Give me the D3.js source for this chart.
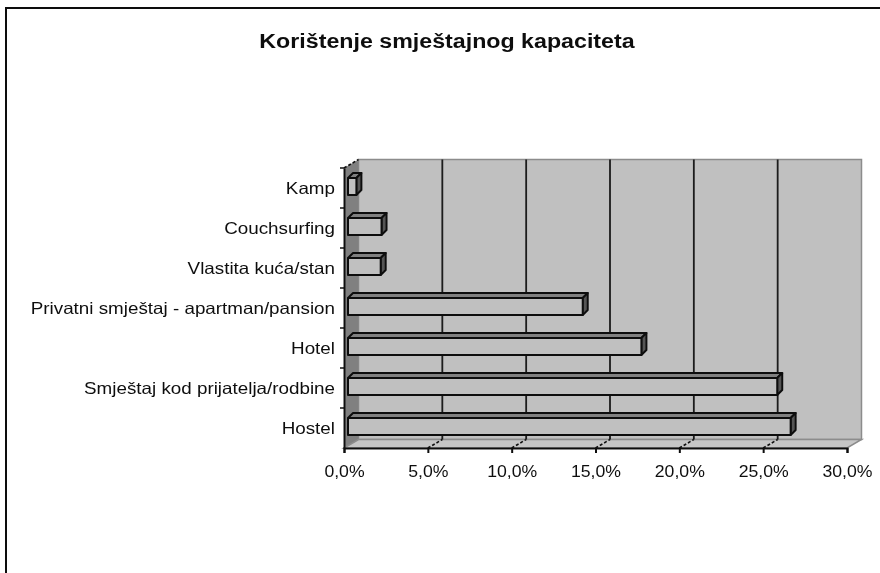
<!DOCTYPE html>
<html>
<head>
<meta charset="utf-8">
<script src="https://cdn.jsdelivr.net/npm/d3@7"></script>
<style>
    body { margin: 0; background: #fff; }
    svg { display: block; }
    text { font-family: "Liberation Sans", Arial, sans-serif; fill: #111; }
</style>
</head>
<body>
<div id="chart"></div>
<script>
'use strict';

const titleText = "Korištenje smještajnog kapaciteta";

// top to bottom, as drawn
const categories = [
    "Kamp",
    "Couchsurfing",
    "Vlastita kuća/stan",
    "Privatni smještaj - apartman/pansion",
    "Hotel",
    "Smještaj kod prijatelja/rodbine",
    "Hostel",
];
const values = [0.5, 2.0, 1.95, 14.0, 17.5, 25.6, 26.4];
const xTicks = [0, 5, 10, 15, 20, 25, 30];

const width = 880;
const height = 573;
const plot = { left: 344, right: 847, top: 168, bottom: 448 };
const depth = { x: 14.5, y: -8.5 };   // shift of the back wall
const bar = { x: 4, y: -1.5, dx: 5, dy: -5 };

const svg = d3.select("#chart")
    .append("svg")
    .attr("width", width)
    .attr("height", height);

// the reference is a soft, upscaled image
svg.append("filter")
    .attr("id", "soft")
    .attr("filterUnits", "userSpaceOnUse")
    .attr("x", 0)
    .attr("y", 0)
    .attr("width", width)
    .attr("height", height)
    .append("feGaussianBlur")
    .attr("stdDeviation", 0.65);

const root = svg.append("g").attr("filter", "url(#soft)");

// the source text is a little wider than the font
function stretch(sel, factor) {
    sel.each(function () {
        const w = this.getComputedTextLength();
        d3.select(this)
            .attr("textLength", w * factor)
            .attr("lengthAdjust", "spacingAndGlyphs");
    });
}

// outer frame, only top and left are visible
root.append("path")
    .attr("d", `M6,${height}V8H${width}`)
    .attr("fill", "none")
    .attr("stroke", "#111")
    .attr("stroke-width", 2);

root.append("text")
    .attr("x", 447)
    .attr("y", 48)
    .attr("text-anchor", "middle")
    .style("font-size", "19.5px")
    .style("font-weight", "bold")
    .text(titleText)
    .call(stretch, 1.19);

const x = d3.scaleLinear().domain([0, 30]).range([plot.left, plot.right]);
const y = d3.scaleBand().domain(categories).range([plot.top, plot.bottom]);

const pts = arr => arr.map(p => p.join(",")).join(" ");

// back wall
root.append("polygon")
    .attr("points", pts([
        [plot.left + depth.x, plot.top + depth.y],
        [plot.right + depth.x, plot.top + depth.y],
        [plot.right + depth.x, plot.bottom + depth.y],
        [plot.left + depth.x, plot.bottom + depth.y],
    ]))
    .attr("fill", "#c0c0c0")
    .attr("stroke", "#8c8c8c")
    .attr("stroke-width", 1.5);

// side wall
root.append("polygon")
    .attr("points", pts([
        [plot.left, plot.top],
        [plot.left + depth.x, plot.top + depth.y],
        [plot.left + depth.x, plot.bottom + depth.y],
        [plot.left, plot.bottom],
    ]))
    .attr("fill", "#808080");

// floor
root.append("polygon")
    .attr("points", pts([
        [plot.left, plot.bottom],
        [plot.left + depth.x, plot.bottom + depth.y],
        [plot.right + depth.x, plot.bottom + depth.y],
        [plot.right, plot.bottom],
    ]))
    .attr("fill", "#c6c6c6")
    .attr("stroke", "#8c8c8c")
    .attr("stroke-width", 1.5);

// grid lines on the wall, dashed where they run over the floor
root.selectAll(".grid")
    .data(xTicks.slice(1, -1))
    .join("line")
    .attr("class", "grid")
    .attr("x1", d => x(d) + depth.x)
    .attr("x2", d => x(d) + depth.x)
    .attr("y1", plot.top + depth.y)
    .attr("y2", plot.bottom + depth.y)
    .attr("stroke", "#1a1a1a")
    .attr("stroke-width", 1.8);

root.selectAll(".grid-floor")
    .data(xTicks.slice(1, -1))
    .join("line")
    .attr("class", "grid-floor")
    .attr("x1", d => x(d))
    .attr("x2", d => x(d) + depth.x)
    .attr("y1", plot.bottom)
    .attr("y2", plot.bottom + depth.y)
    .attr("stroke", "#111")
    .attr("stroke-width", 1.6)
    .attr("stroke-dasharray", "3,2");

// dashed edge above the category axis
root.append("line")
    .attr("x1", plot.left)
    .attr("y1", plot.top)
    .attr("x2", plot.left + depth.x)
    .attr("y2", plot.top + depth.y)
    .attr("stroke", "#111")
    .attr("stroke-width", 1.6)
    .attr("stroke-dasharray", "3,2");

// bars, each a front face, a top face and an end face
const bars = root.selectAll(".bar")
    .data(categories.map((c, i) => ({ c, v: values[i] })))
    .join("g")
    .attr("class", "bar")
    .attr("stroke", "#111")
    .attr("stroke-width", 2)
    .attr("stroke-linejoin", "round");

const barH = 17;
const fx0 = plot.left + bar.x;
const fy0 = d => y(d.c) + y.bandwidth() / 2 + bar.y - barH / 2;
const fx1 = d => x(d.v) + bar.x;

bars.append("polygon")
    .attr("fill", "#808080")
    .attr("points", d => pts([
        [fx0, fy0(d)],
        [fx0 + bar.dx, fy0(d) + bar.dy],
        [fx1(d) + bar.dx, fy0(d) + bar.dy],
        [fx1(d), fy0(d)],
    ]));

bars.append("polygon")
    .attr("fill", "#555")
    .attr("points", d => pts([
        [fx1(d), fy0(d)],
        [fx1(d) + bar.dx, fy0(d) + bar.dy],
        [fx1(d) + bar.dx, fy0(d) + bar.dy + barH],
        [fx1(d), fy0(d) + barH],
    ]));

bars.append("rect")
    .attr("fill", "#c0c0c0")
    .attr("x", fx0)
    .attr("y", fy0)
    .attr("width", d => fx1(d) - fx0)
    .attr("height", barH);

// axes
const xAxis = root.append("g")
    .attr("transform", `translate(0,${plot.bottom})`)
    .call(d3.axisBottom(x)
        .tickValues(xTicks)
        .tickSizeOuter(0)
        .tickSize(5)
        .tickPadding(12)
        .tickFormat(d => d.toFixed(1).replace(".", ",") + "%"));

const yAxis = root.append("g")
    .attr("transform", `translate(${plot.left},0)`)
    .call(d3.axisLeft(y)
        .tickSize(0)
        .tickPadding(9));

// category ticks sit between the bands
root.selectAll(".ytick")
    .data(categories)
    .join("line")
    .attr("class", "ytick")
    .attr("x1", plot.left - 4)
    .attr("x2", plot.left)
    .attr("y1", d => y(d))
    .attr("y2", d => y(d))
    .attr("stroke", "#111")
    .attr("stroke-width", 1.5);

[xAxis, yAxis].forEach(a => {
    a.selectAll("path, line").attr("stroke", "#111").attr("stroke-width", 2);
    a.selectAll("text")
        .style("font-size", "16.5px")
        .style("font-family", '"Liberation Sans", Arial, sans-serif')
        .attr("fill", "#111");
});
xAxis.selectAll("text").call(stretch, 1.07);
yAxis.selectAll("text").attr("dy", "0.38em").call(stretch, 1.14);
</script>
</body>
</html>
